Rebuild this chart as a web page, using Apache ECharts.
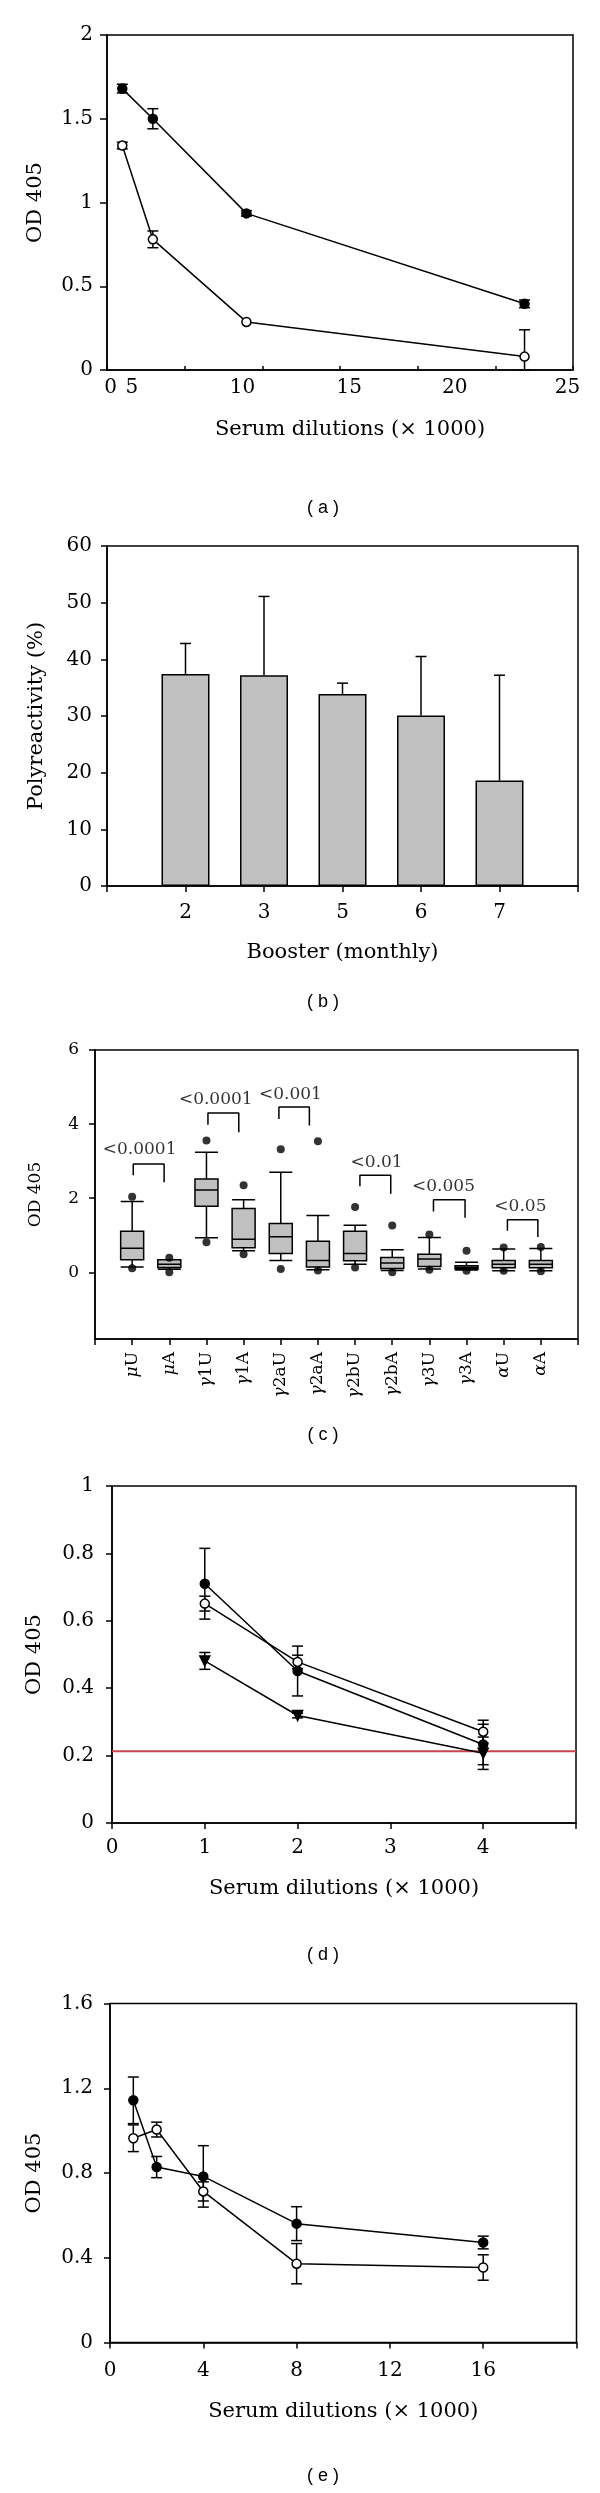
<!DOCTYPE html>
<html><head><meta charset="utf-8">
<script src="https://cdn.jsdelivr.net/npm/echarts@6/dist/echarts.min.js"></script>
<style>html,body{margin:0;padding:0;background:#fff}#c{width:600px;height:2493px}</style>
</head><body><div id="c"></div>
<script>
// ---------- Panel (a) ----------
const aX = [0.82, 2.46, 7.48, 22.4];
const aFilled = [1.68, 1.50, 0.935, 0.395];
const aFilledErr = [0.026, 0.06, 0.016, 0.023];
const aOpen = [1.34, 0.78, 0.287, 0.08];
const aOpenErr = [0.02, 0.05, 0, 0.16];
const aTickLabels = ['0', '5', '10', '15', '20', '25'];
const aTickLabelPos = [0.2, 1.33, 7.27, 13.0, 18.65, 24.7];

// ---------- Panel (b) ----------
const bCategories = ['', '2', '3', '5', '6', '7', ''];
const bValues = [null, 37.4, 37.2, 33.9, 30.1, 18.6, null];
const bErrTop = [null, 42.8, 51.1, 35.8, 40.5, 37.2, null];

// ---------- Panel (c) ----------
const cCategories = ['', 'μU', 'μA', 'γ1U', 'γ1A', 'γ2aU', 'γ2aA', 'γ2bU', 'γ2bA', 'γ3U', 'γ3A', 'αU', 'αA', ''];
// [min, Q1, median, Q3, max]
const cBoxes = [
  [0.14, 0.34, 0.65, 1.11, 1.91],
  [0.08, 0.13, 0.22, 0.34, 0.34],
  [0.93, 1.78, 2.22, 2.52, 3.24],
  [0.58, 0.66, 0.89, 1.72, 1.96],
  [0.32, 0.51, 0.96, 1.32, 2.70],
  [0.07, 0.14, 0.32, 0.84, 1.53],
  [0.22, 0.31, 0.51, 1.11, 1.27],
  [0.05, 0.10, 0.25, 0.40, 0.61],
  [0.09, 0.16, 0.36, 0.49, 0.94],
  [0.06, 0.09, 0.13, 0.18, 0.27],
  [0.04, 0.12, 0.22, 0.32, 0.63],
  [0.04, 0.12, 0.22, 0.32, 0.64]
];
const cOutHigh = [2.04, 0.39, 3.56, 2.35, 3.32, 3.54, 1.76, 1.26, 1.02, 0.58, 0.67, 0.68];
const cOutLow = [0.11, 0.0, 0.81, 0.49, 0.09, 0.05, 0.13, 0.0, 0.07, 0.04, 0.04, 0.03];
const cBrLeftX = [1.03, 3.04, 4.95, 7.13, 9.11, 11.1];
const cBrRightX = [1.86, 3.87, 5.77, 7.96, 9.96, 11.92];
const cBrTop = [2.92, 4.30, 4.46, 2.62, 1.96, 1.42];
const cBrLeftEnd = [2.62, 3.98, 4.14, 2.32, 1.64, 1.12];
const cBrRightEnd = [2.43, 3.78, 3.96, 2.12, 1.47, 0.95];
const cPText = ['<0.0001', '<0.0001', '<0.001', '<0.01', '<0.005', '<0.05'];
const cPX = [1.2, 3.25, 5.26, 7.58, 9.38, 11.45];
const cPY = [3.31, 4.66, 4.79, 2.97, 2.32, 1.78];
const cYTicks = [0, 2, 4, 6];

// ---------- Panel (d) ----------
const dX = [1, 2, 4];
const dFilled = [0.71, 0.451, 0.233];
const dFilledErr = [0.105, 0.074, 0.06];
const dOpen = [0.651, 0.478, 0.271];
const dOpenErr = [0.022, 0.02, 0.034];
const dTri = [0.481, 0.319, 0.207];
const dTriErr = [0.025, 0.007, 0.048];
const dCutoff = 0.213;

// ---------- Panel (e) ----------
const eX = [1, 2, 4, 8, 16];
const eFilled = [1.143, 0.828, 0.784, 0.561, 0.472];
const eFilledErr = [0.11, 0.05, 0.145, 0.08, 0.03];
const eOpen = [0.964, 1.005, 0.713, 0.372, 0.354];
const eOpenErr = [0.063, 0.035, 0.045, 0.095, 0.06];

const panelLabels = ['( a )', '( b )', '( c )', '( d )', '( e )'];

// ---------- helpers ----------
const SERIF = 'DejaVu Serif';
const BLACK = '#000';
const zip = (xs, ys) => xs.map((x, i) => [x, ys[i]]);
const errData = (xs, ys, es) => xs.map((x, i) => [x, Math.max(0, ys[i] - es[i]), ys[i] + es[i]]);

function errRender(capW, bottomCap) {
  return function (params, api) {
    const x = api.value(0), lo = api.value(1), hi = api.value(2);
    if (hi === lo) return null;
    const p1 = api.coord([x, hi]), p2 = api.coord([x, lo]);
    const h = capW / 2;
    const st = { stroke: BLACK, lineWidth: 1.5 };
    const ch = [
      { type: 'line', shape: { x1: p1[0], y1: p1[1], x2: p2[0], y2: p2[1] }, style: st },
      { type: 'line', shape: { x1: p1[0] - h, y1: p1[1], x2: p1[0] + h, y2: p1[1] }, style: st }
    ];
    if (bottomCap) ch.push({ type: 'line', shape: { x1: p2[0] - h, y1: p2[1], x2: p2[0] + h, y2: p2[1] }, style: st });
    return { type: 'group', children: ch };
  };
}
function errSeries(xi, yi, data, bottomCap) {
  return { type: 'custom', xAxisIndex: xi, yAxisIndex: yi, data: data, renderItem: errRender(11, bottomCap !== false), z: 2, silent: true };
}
function lineSeries(xi, yi, data, kind) {
  const s = {
    type: 'line', xAxisIndex: xi, yAxisIndex: yi, data: data, z: 4, silent: true,
    lineStyle: { color: BLACK, width: 1.5 }, symbolSize: 9, symbol: 'circle',
    itemStyle: { color: BLACK, borderColor: BLACK, borderWidth: 1.5 }
  };
  if (kind === 'open') s.itemStyle = { color: '#fff', borderColor: BLACK, borderWidth: 1.5 };
  if (kind === 'tri') { s.symbol = 'triangle'; s.symbolRotate = 180; s.symbolSize = 10; }
  return s;
}
const axisLineStyle = { show: true, onZero: false, lineStyle: { color: BLACK, width: 1.5 } };
const tickOut = (len) => ({ show: true, inside: false, length: len, lineStyle: { color: BLACK, width: 1.5 } });
function labelStyle(size, margin) {
  return { fontFamily: SERIF, fontSize: size, color: BLACK, margin: margin };
}
function nameStyle(size, pad) {
  const s = { fontFamily: SERIF, fontSize: size, color: BLACK };
  if (pad) s.padding = pad;
  return s;
}

const grids = [
  { left: 107, top: 35, width: 466, height: 335 },
  { left: 107, top: 546, width: 471, height: 340 },
  { left: 95, top: 1050, width: 483, height: 289 },
  { left: 112, top: 1486, width: 464, height: 337 },
  { left: 110, top: 2003.5, width: 466.5, height: 339 }
].map(g => Object.assign(g, { show: true, borderColor: BLACK, borderWidth: 1.5, backgroundColor: 'transparent' }));

const xAxes = [
  { // a
    gridIndex: 0, type: 'value', min: 0, max: 25, interval: 25 / 6,
    axisLine: axisLineStyle, axisTick: { show: true, inside: true, length: 4, lineStyle: { color: BLACK, width: 1.5 } },
    axisLabel: Object.assign(labelStyle(20, 8), {
      customValues: aTickLabelPos,
      formatter: v => { let k = 0, d = 1e9; aTickLabelPos.forEach((p, i) => { if (Math.abs(p - v) < d) { d = Math.abs(p - v); k = i; } }); return aTickLabels[k]; }
    }),
    splitLine: { show: false },
    name: 'Serum dilutions (× 1000)', nameLocation: 'middle', nameGap: 49, nameTextStyle: nameStyle(21, [0, 0, 0, 20])
  },
  { // b
    gridIndex: 1, type: 'category', data: bCategories, boundaryGap: false,
    axisLine: axisLineStyle, axisTick: tickOut(6), axisLabel: Object.assign(labelStyle(20, 17), { interval: 0 }),
    splitLine: { show: false },
    name: 'Booster (monthly)', nameLocation: 'middle', nameGap: 56, nameTextStyle: nameStyle(21)
  },
  { // c categories
    gridIndex: 2, type: 'category', data: cCategories, boundaryGap: false,
    axisLine: axisLineStyle, axisTick: Object.assign(tickOut(6), { interval: 0 }),
    axisLabel: Object.assign(labelStyle(17, 13), {
      interval: 0, rotate: 90,
      formatter: v => v ? '{g|' + v.charAt(0) + '}' + v.slice(1) : '',
      rich: { g: { fontFamily: SERIF, fontSize: 17, fontStyle: 'italic', color: BLACK } }
    }),
    splitLine: { show: false }
  },
  { // c value helper
    gridIndex: 2, type: 'value', min: 0, max: 13, show: false
  },
  { // d
    gridIndex: 3, type: 'value', min: 0, max: 5, interval: 1,
    axisLine: axisLineStyle, axisTick: tickOut(6),
    axisLabel: Object.assign(labelStyle(20, 15), { formatter: v => v === 5 ? '' : String(v) }),
    splitLine: { show: false },
    name: 'Serum dilutions (× 1000)', nameLocation: 'middle', nameGap: 55, nameTextStyle: nameStyle(21)
  },
  { // e
    gridIndex: 4, type: 'value', min: 0, max: 20, interval: 4,
    axisLine: axisLineStyle, axisTick: tickOut(6),
    axisLabel: Object.assign(labelStyle(20, 18), { formatter: v => v === 20 ? '' : String(v) }),
    splitLine: { show: false },
    name: 'Serum dilutions (× 1000)', nameLocation: 'middle', nameGap: 59, nameTextStyle: nameStyle(21)
  }
];

const yAxes = [
  { gridIndex: 0, type: 'value', min: 0, max: 2, interval: 0.5, axisLine: axisLineStyle, axisTick: tickOut(7),
    axisLabel: labelStyle(20, 14), splitLine: { show: false },
    name: 'OD 405', nameLocation: 'middle', nameGap: 61, nameTextStyle: nameStyle(21) },
  { gridIndex: 1, type: 'value', min: 0, max: 60, interval: 10, axisLine: axisLineStyle, axisTick: tickOut(6),
    axisLabel: labelStyle(20, 15), splitLine: { show: false },
    name: 'Polyreactivity (%)', nameLocation: 'middle', nameGap: 60, nameTextStyle: nameStyle(21) },
  { gridIndex: 2, type: 'value', min: -1.8, max: 6, axisLine: axisLineStyle,
    axisTick: Object.assign(tickOut(6), { customValues: cYTicks }),
    axisLabel: Object.assign(labelStyle(17, 16), { customValues: cYTicks }), splitLine: { show: false },
    name: 'OD 405', nameLocation: 'middle', nameGap: 51, nameTextStyle: nameStyle(17) },
  { gridIndex: 3, type: 'value', min: 0, max: 1, interval: 0.2, axisLine: axisLineStyle, axisTick: tickOut(6),
    axisLabel: labelStyle(20, 18), splitLine: { show: false },
    name: 'OD 405', nameLocation: 'middle', nameGap: 67, nameTextStyle: nameStyle(21) },
  { gridIndex: 4, type: 'value', min: 0, max: 1.6, interval: 0.4, axisLine: axisLineStyle, axisTick: tickOut(6),
    axisLabel: labelStyle(20, 17), splitLine: { show: false },
    name: 'OD 405', nameLocation: 'middle', nameGap: 65, nameTextStyle: nameStyle(21) }
];

const series = [];
// (a)
series.push(errSeries(0, 0, errData(aX, aFilled, aFilledErr)));
series.push(errSeries(0, 0, errData(aX, aOpen, aOpenErr)));
series.push(lineSeries(0, 0, zip(aX, aFilled), 'filled'));
series.push(lineSeries(0, 0, zip(aX, aOpen), 'open'));
// (b)
series.push({ type: 'bar', xAxisIndex: 1, yAxisIndex: 1, data: bValues, barWidth: 48, silent: true,
  itemStyle: { color: '#c0c0c0', borderColor: BLACK, borderWidth: 1.5 }, z: 2 });
series.push({ type: 'custom', xAxisIndex: 1, yAxisIndex: 1, z: 3, silent: true,
  data: bValues.map((v, i) => v == null ? null : [i, v, bErrTop[i]]).filter(d => d),
  renderItem: errRender(11, false) });
// (c)
series.push({ type: 'boxplot', xAxisIndex: 2, yAxisIndex: 2, silent: true, boxWidth: [23, 23],
  data: cBoxes.map((b, i) => [i + 1].concat(b)), encode: { x: 0, y: [1, 2, 3, 4, 5] },
  itemStyle: { color: '#c0c0c0', borderColor: BLACK, borderWidth: 1.5 }, z: 2 });
series.push({ type: 'scatter', xAxisIndex: 2, yAxisIndex: 2, silent: true, symbolSize: 8, z: 4,
  itemStyle: { color: BLACK },
  data: cOutHigh.map((v, i) => [i + 1, v]).concat(cOutLow.map((v, i) => [i + 1, v])) });
cBrLeftX.forEach((x1, i) => {
  series.push({ type: 'line', xAxisIndex: 3, yAxisIndex: 2, silent: true, symbol: 'none', z: 3,
    lineStyle: { color: BLACK, width: 1.5 },
    data: [[x1, cBrLeftEnd[i]], [x1, cBrTop[i]], [cBrRightX[i], cBrTop[i]], [cBrRightX[i], cBrRightEnd[i]]] });
});
series.push({ type: 'scatter', xAxisIndex: 3, yAxisIndex: 2, silent: true, symbolSize: 0, z: 5,
  data: cPText.map((t, i) => ({ name: t, value: [cPX[i], cPY[i]] })),
  label: { show: true, position: 'inside', formatter: '{b}', fontFamily: SERIF, fontSize: 17, color: BLACK } });
// (d)
series.push({ type: 'line', xAxisIndex: 4, yAxisIndex: 3, silent: true, symbol: 'none', z: 1,
  lineStyle: { color: '#c8464e', width: 2 }, data: [[0, dCutoff], [5, dCutoff]] });
series.push(errSeries(4, 3, errData(dX, dFilled, dFilledErr)));
series.push(errSeries(4, 3, errData(dX, dOpen, dOpenErr)));
series.push(errSeries(4, 3, errData(dX, dTri, dTriErr)));
series.push(lineSeries(4, 3, zip(dX, dFilled), 'filled'));
series.push(lineSeries(4, 3, zip(dX, dOpen), 'open'));
series.push(lineSeries(4, 3, zip(dX, dTri), 'tri'));
// (e)
series.push(errSeries(5, 4, errData(eX, eFilled, eFilledErr)));
series.push(errSeries(5, 4, errData(eX, eOpen, eOpenErr)));
series.push(lineSeries(5, 4, zip(eX, eFilled), 'filled'));
series.push(lineSeries(5, 4, zip(eX, eOpen), 'open'));

const labelY = [508, 1002, 1435, 1955, 2476];
const graphic = panelLabels.map((t, i) => ({
  type: 'text', x: 323, y: labelY[i], silent: true,
  style: { text: t, fontFamily: 'Liberation Sans', fontSize: 18, fill: BLACK, textAlign: 'center', textVerticalAlign: 'middle' }
}));

const chart = echarts.init(document.getElementById('c'), null, { renderer: 'canvas' });
chart.setOption({
  animation: false,
  backgroundColor: '#fff',
  grid: grids,
  xAxis: xAxes,
  yAxis: yAxes,
  series: series,
  graphic: graphic
});
</script>
</body></html>
